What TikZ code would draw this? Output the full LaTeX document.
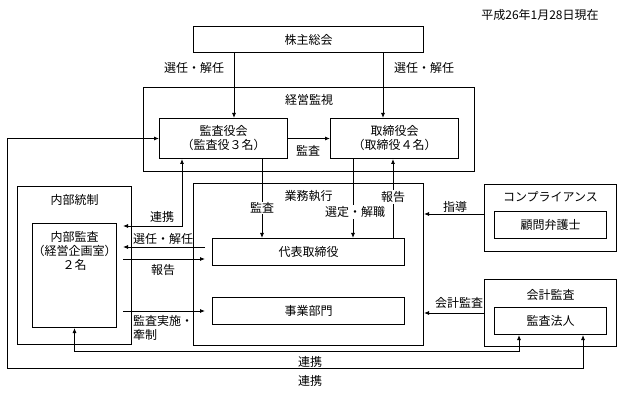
\documentclass[tikz,border=0pt]{standalone}
\usepackage{fontspec}
\setmainfont{Noto Sans CJK JP}
\usetikzlibrary{arrows.meta,positioning}

\begin{document}
\begin{tikzpicture}[
  x=1pt, y=-1pt,
  font=\fontsize{12}{14}\selectfont,
  box/.style={draw, line width=1pt, inner sep=0pt, align=center, anchor=north west},
  frame/.style={draw, line width=1pt, inner sep=0pt, anchor=north west},
  title/.style={inner sep=0pt},
  lbl/.style={inner sep=0pt},
  cut/.style={fill=white, inner sep=1pt},
  arrow/.style={-{Latex[length=5pt,width=4pt]}, line width=0.8pt},
  dbl/.style={{Latex[length=5pt,width=4pt]}-{Latex[length=5pt,width=4pt]}, line width=0.8pt}
]
\useasboundingbox (0,0) rectangle (621,395);

\node (date) at (540,15) {平成26年1月28日現在};

% top
\node[box, minimum width=230pt, minimum height=26pt] (kabu) at (193,26) {株主総会};
\node[frame, minimum width=331pt, minimum height=84pt] (keiei) at (143,87) {};
\node[title] (keieiT) at ([yshift=-13pt]keiei.north) {経営監視};
\node[box, minimum width=128pt, minimum height=40pt] (kansayaku) at (159,118) {監査役会\\（監査役３名）};
\node[box, minimum width=128pt, minimum height=40pt] (torishimari) at (330,118) {取締役会\\（取締役４名）};

% left
\node[frame, minimum width=114pt, minimum height=158pt] (tousei) at (17,186) {};
\node[title] (touseiT) at ([yshift=-14pt]tousei.north) {内部統制};
\node[frame, minimum width=84pt, minimum height=104pt] (naibu) at (32,223) {};
\node[title, align=center, anchor=north] (naibuT) at ([yshift=-8pt]naibu.north) {内部監査\\（経営企画室）\\２名};

% middle
\node[frame, minimum width=230pt, minimum height=162pt] (gyomu) at (193,183) {};
\node[title] (gyomuT) at ([yshift=-13pt]gyomu.north) {業務執行};
\node[box, minimum width=192pt, minimum height=27pt] (daihyo) at (212,238) {代表取締役};
\node[box, minimum width=192pt, minimum height=27pt] (jigyo) at (212,297) {事業部門};

% right
\node[frame, minimum width=132pt, minimum height=67pt] (comp) at (484,184) {};
\node[title] (compT) at ([yshift=-13pt]comp.north) {コンプライアンス};
\node[box, minimum width=112pt, minimum height=27pt] (komon) at (494,211) {顧問弁護士};
\node[frame, minimum width=132pt, minimum height=67pt] (kaikei) at (484,279) {};
\node[title] (kaikeiT) at ([yshift=-16pt]kaikei.north) {会計監査};
\node[box, minimum width=112pt, minimum height=27pt] (houjin) at (494,307) {監査法人};

\coordinate (kL) at ([xshift=6pt]naibu.east);
\coordinate (kR) at ([xshift=-7pt]daihyo.west);

% connectors
\draw[arrow] (kabu.south -| 234,0) -- (kansayaku.north -| 234,0);
\node[lbl] at (194,68) {選任・解任};
\draw[arrow] (kabu.south -| 383,0) -- (torishimari.north -| 383,0);
\node[lbl] at (424,68) {選任・解任};
\draw[arrow] (kansayaku) -- (torishimari);
\node[lbl] at (308,151) {監査};

\draw[dbl] (houjin.south -| 583,0) |- (7,368) |- (kansayaku.west);
\node[lbl] at (310,381) {連携};
\draw[dbl] (naibu.south) |- (519,351) -- (houjin.south -| 519,0);
\node[lbl] at (310,362) {連携};

\draw[dbl] (kansayaku.south -| 182,0) |- (kL |- 0,226);
\node[lbl] at (162,217) {連携};
\draw[arrow] (kR |- 0,247) -- (kL |- 0,247);
\node[lbl] at (163,239) {選任・解任};
\draw[arrow] (kL |- 0,259) -- (kR |- 0,259);
\node[lbl] at (163,270) {報告};
\draw[arrow] (kL |- jigyo.west) -- (kR |- jigyo.west);
\node[lbl, align=left, anchor=north west] at (133,315) {監査実施・\\牽制};

\draw[arrow] (kansayaku.south -| 262,0) -- (daihyo.north -| 262,0);
\node[cut] at (262,208) {監査};
\draw[arrow] (torishimari.south -| 353,0) -- (daihyo.north -| 353,0);
\node[cut] at (355,212) {選定・解職};
\draw[arrow] (daihyo.north -| 393,0) -- (torishimari.south -| 393,0);
\node[cut] at (393,197) {報告};

\draw[arrow] (comp.west |- 0,214) -- (gyomu.east |- 0,214);
\node[lbl] at (455,207) {指導};
\draw[arrow] (kaikei.west |- 0,313) -- (gyomu.east |- 0,313);
\node[lbl] at (459,303) {会計監査};

\end{tikzpicture}
\end{document}
